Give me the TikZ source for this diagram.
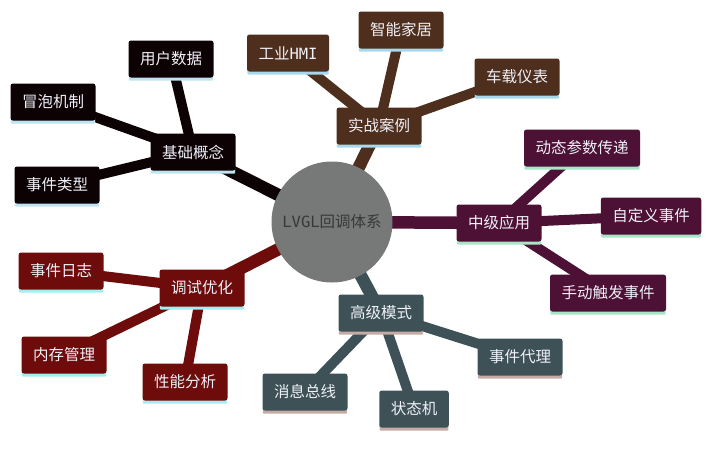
\documentclass[tikz,border=0pt]{standalone}
\usepackage{fontspec}
\setmainfont{Noto Sans CJK SC}
\newfontfamily\monofont{DejaVu Sans Mono}
\pgfdeclarelayer{background}
\pgfsetlayers{background,main}
\definecolor{cA}{HTML}{0C0204}\definecolor{uA}{HTML}{BFE3F0}
\definecolor{cB}{HTML}{4E2E1C}\definecolor{uB}{HTML}{A8D8EA}
\definecolor{cC}{HTML}{4D1135}\definecolor{uC}{HTML}{A8E6C8}
\definecolor{cD}{HTML}{3D5157}\definecolor{uD}{HTML}{C4ACA4}
\definecolor{cE}{HTML}{6E0B0B}\definecolor{uE}{HTML}{A0F0F0}
\definecolor{hub}{HTML}{777978}
\definecolor{txt}{HTML}{F0F0F8}
\tikzset{
  mb/.style={fill=#1, rounded corners=2.5pt, text=txt, minimum height=37pt,
    inner xsep=11.5pt, inner ysep=0pt, font=\fontsize{15.5}{18}\selectfont},
  circ/.style={circle, fill=hub, minimum size=121pt, inner sep=0pt, text=black!78,
    font=\fontsize{15.5}{18}\selectfont},
  mainlink/.style={line width=12.5pt, draw=#1},
  sublink/.style={line width=10pt, draw=#1},
}
\newcommand\ul[2]{\fill[#2, rounded corners=1pt] ([xshift=0.5pt,yshift=4pt]#1.south west) rectangle ([xshift=-0.5pt,yshift=-3pt]#1.south east);}
\begin{document}
\begin{tikzpicture}[x=1pt,y=-1pt]
\useasboundingbox (0,0) rectangle (712,448);
\node[circ] (c) at (332,222) {{\monofont LVGL}回调体系};
% group A
\node[mb=cA] (a) at (193,152) {基础概念};
\node[mb=cA] (a1) at (171,59) {用户数据};
\node[mb=cA] (a2) at (53,102) {冒泡机制};
\node[mb=cA] (a3) at (57,185) {事件类型};
% group B
\node[mb=cB] (b) at (379,126) {实战案例};
\node[mb=cB] (b1) at (288,53) {工业{\monofont HMI}};
\node[mb=cB] (b2) at (401,30) {智能家居};
\node[mb=cB] (b3) at (517,77) {车载仪表};
% group C
\node[mb=cC] (m) at (499,223) {中级应用};
\node[mb=cC] (m1) at (582,148) {动态参数传递};
\node[mb=cC] (m2) at (651,216) {自定义事件};
\node[mb=cC] (m3) at (608,293) {手动触发事件};
% group D
\node[mb=cD] (d) at (381,313) {高级模式};
\node[mb=cD] (d1) at (520,357) {事件代理};
\node[mb=cD] (d2) at (305,392) {消息总线};
\node[mb=cD] (d3) at (414,409) {状态机};
% group E
\node[mb=cE] (e) at (202,288) {调试优化};
\node[mb=cE] (e1) at (61,271) {事件日志};
\node[mb=cE] (e2) at (64,355) {内存管理};
\node[mb=cE] (e3) at (185,382) {性能分析};
\begin{pgfonlayer}{background}
\draw[mainlink=cA] (c.center) -- (a.center);
\draw[mainlink=cB] (c.center) -- (b.center);
\draw[mainlink=cC] (c.center) -- (m.center);
\draw[mainlink=cD] (c.center) -- (d.center);
\draw[mainlink=cE] (c.center) -- (e.center);
\draw[sublink=cA] (a.center) -- (a1.center);
\draw[sublink=cA] (a.center) -- (a2.center);
\draw[sublink=cA] (a.center) -- (a3.center);
\draw[sublink=cB] (b.center) -- (b1.center);
\draw[sublink=cB] (b.center) -- (b2.center);
\draw[sublink=cB] (b.center) -- (b3.center);
\draw[sublink=cC] (m.center) -- (m1.center);
\draw[sublink=cC] (m.center) -- (m2.center);
\draw[sublink=cC] (m.center) -- (m3.center);
\draw[sublink=cD] (d.center) -- (d1.center);
\draw[sublink=cD] (d.center) -- (d2.center);
\draw[sublink=cD] (d.center) -- (d3.center);
\draw[sublink=cE] (e.center) -- (e1.center);
\draw[sublink=cE] (e.center) -- (e2.center);
\draw[sublink=cE] (e.center) -- (e3.center);
\ul{a}{uA}\ul{a1}{uA}\ul{a2}{uA}\ul{a3}{uA}
\ul{b}{uB}\ul{b1}{uB}\ul{b2}{uB}\ul{b3}{uB}
\ul{m}{uC}\ul{m1}{uC}\ul{m2}{uC}\ul{m3}{uC}
\ul{d}{uD}\ul{d1}{uD}\ul{d2}{uD}\ul{d3}{uD}
\ul{e}{uE}\ul{e1}{uE}\ul{e2}{uE}\ul{e3}{uE}
\end{pgfonlayer}
\end{tikzpicture}
\end{document}
